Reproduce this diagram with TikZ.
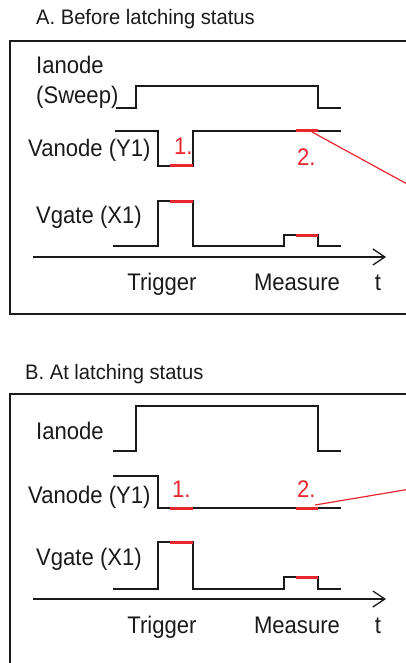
\documentclass[tikz,border=0pt]{standalone}
\usepackage{fontspec}
\setmainfont{Liberation Sans}
\newfontfamily\condfont[FakeStretch=0.92]{Liberation Sans}
\newfontfamily\titlefont[FakeStretch=0.96]{Liberation Sans}
\usetikzlibrary{arrows.meta}
\definecolor{mark}{HTML}{E8262D}
\definecolor{ink}{HTML}{1A1A1A}
\begin{document}
\begin{tikzpicture}[x=1pt,y=-1pt,
  lbl/.style={inner sep=0pt,anchor=base west,text=ink,font=\condfont\fontsize{24}{28}\selectfont},
  tick/.style={inner sep=0pt,anchor=base,text=ink,font=\condfont\fontsize{24}{28}\selectfont},
  ttl/.style={inner sep=0pt,anchor=base west,text=ink,font=\titlefont\fontsize{21}{25}\selectfont},
  num/.style={inner sep=0pt,anchor=base west,text=mark,font=\condfont\fontsize{24}{28}\selectfont},
  wave/.style={draw=ink,line width=1.4pt,line join=miter},
  hit/.style={draw=mark,line width=3pt},
  pointer/.style={draw=mark,line width=1.2pt},
  frame/.style={draw=ink,line width=1.6pt},
  axis/.style={draw=ink,line width=1.3pt,-{Straight Barb[length=12pt,width=16pt,line width=1.3pt]}}]
\useasboundingbox (0,0) rectangle (406,663);
\clip (0,0) rectangle (406,663);

% ---------- A. Before latching status ----------
\node[ttl] (titleA) at (36,25) {A. Before latching status};
\draw[frame] (10,41) rectangle (440,314);

\node[lbl] (ianA) at (36,74) {Ianode};
\node[lbl] (sweepA) at (36,104) {(Sweep)};
\node[lbl] (vanA) at (28,157) {Vanode (Y1)};
\node[lbl] (vgA) at (36,223) {Vgate (X1)};

% anode current sweep
\draw[wave] (116,108) -- (136,108) -- (136,86) -- (318,86) -- (318,108) -- (341,108);
\draw[ink,line width=2.2pt] (262,86) -- (273,86);
% anode voltage
\draw[wave] (115,131) -- (158,131) -- (158,166) -- (193,166) -- (193,131) -- (341,131);
\draw[hit] (170,166) -- (193,166);
\draw[hit] (296,131) -- (318,131);
% gate voltage
\draw[wave] (113,246) -- (158,246) -- (158,201) -- (193,201) -- (193,246) -- (284,246)
  -- (284,235) -- (318,235) -- (318,246) -- (341,246);
\draw[hit] (170,201) -- (193,201);
\draw[hit] (296,235) -- (318,235);

\node[num] (oneA) at (174,154) {1.};
\node[num] (twoA) at (297,166) {2.};

\coordinate (axA0) at (33,257);
\coordinate (axA1) at (386,257);
\draw[axis] (axA0) -- (axA1);
\node[tick] (trigA) at (162,290) {Trigger};
\node[tick] (measA) at (297,290) {Measure};
\node[tick] (tA) at (378,290) {t};

\coordinate (pA) at (312,132);
\coordinate (qA) at (440,202);
\draw[pointer] (pA) -- (qA);

% ---------- B. At latching status ----------
\node[ttl] (titleB) at (25,379) {B. At latching status};
\draw[frame] (10,394) rectangle (440,700);

\node[lbl] (ianB) at (36,439) {Ianode};
\node[lbl] (vanB) at (28,503) {Vanode (Y1)};
\node[lbl] (vgB) at (36,565) {Vgate (X1)};

% anode current
\draw[wave] (113,451) -- (136,451) -- (136,406) -- (318,406) -- (318,451) -- (341,451);
\draw[ink,line width=2.2pt] (262,406) -- (273,406);
% anode voltage stays low once latched
\draw[wave] (113,476) -- (158,476) -- (158,508) -- (341,508);
\draw[hit] (170,508) -- (193,508);
\draw[hit] (296,508) -- (318,508);
% gate voltage
\draw[wave] (113,589) -- (158,589) -- (158,542) -- (193,542) -- (193,589) -- (284,589)
  -- (284,577) -- (318,577) -- (318,589) -- (341,589);
\draw[hit] (170,542) -- (193,542);
\draw[hit] (296,577) -- (318,577);

\node[num] (oneB) at (172,497) {1.};
\node[num] (twoB) at (297,497) {2.};

\coordinate (axB0) at (33,599);
\coordinate (axB1) at (386,599);
\draw[axis] (axB0) -- (axB1);
\node[tick] (trigB) at (162,633) {Trigger};
\node[tick] (measB) at (297,633) {Measure};
\node[tick] (tB) at (378,633) {t};

\coordinate (pB) at (315,505);
\coordinate (qB) at (440,484);
\draw[pointer] (pB) -- (qB);
\end{tikzpicture}
\end{document}
